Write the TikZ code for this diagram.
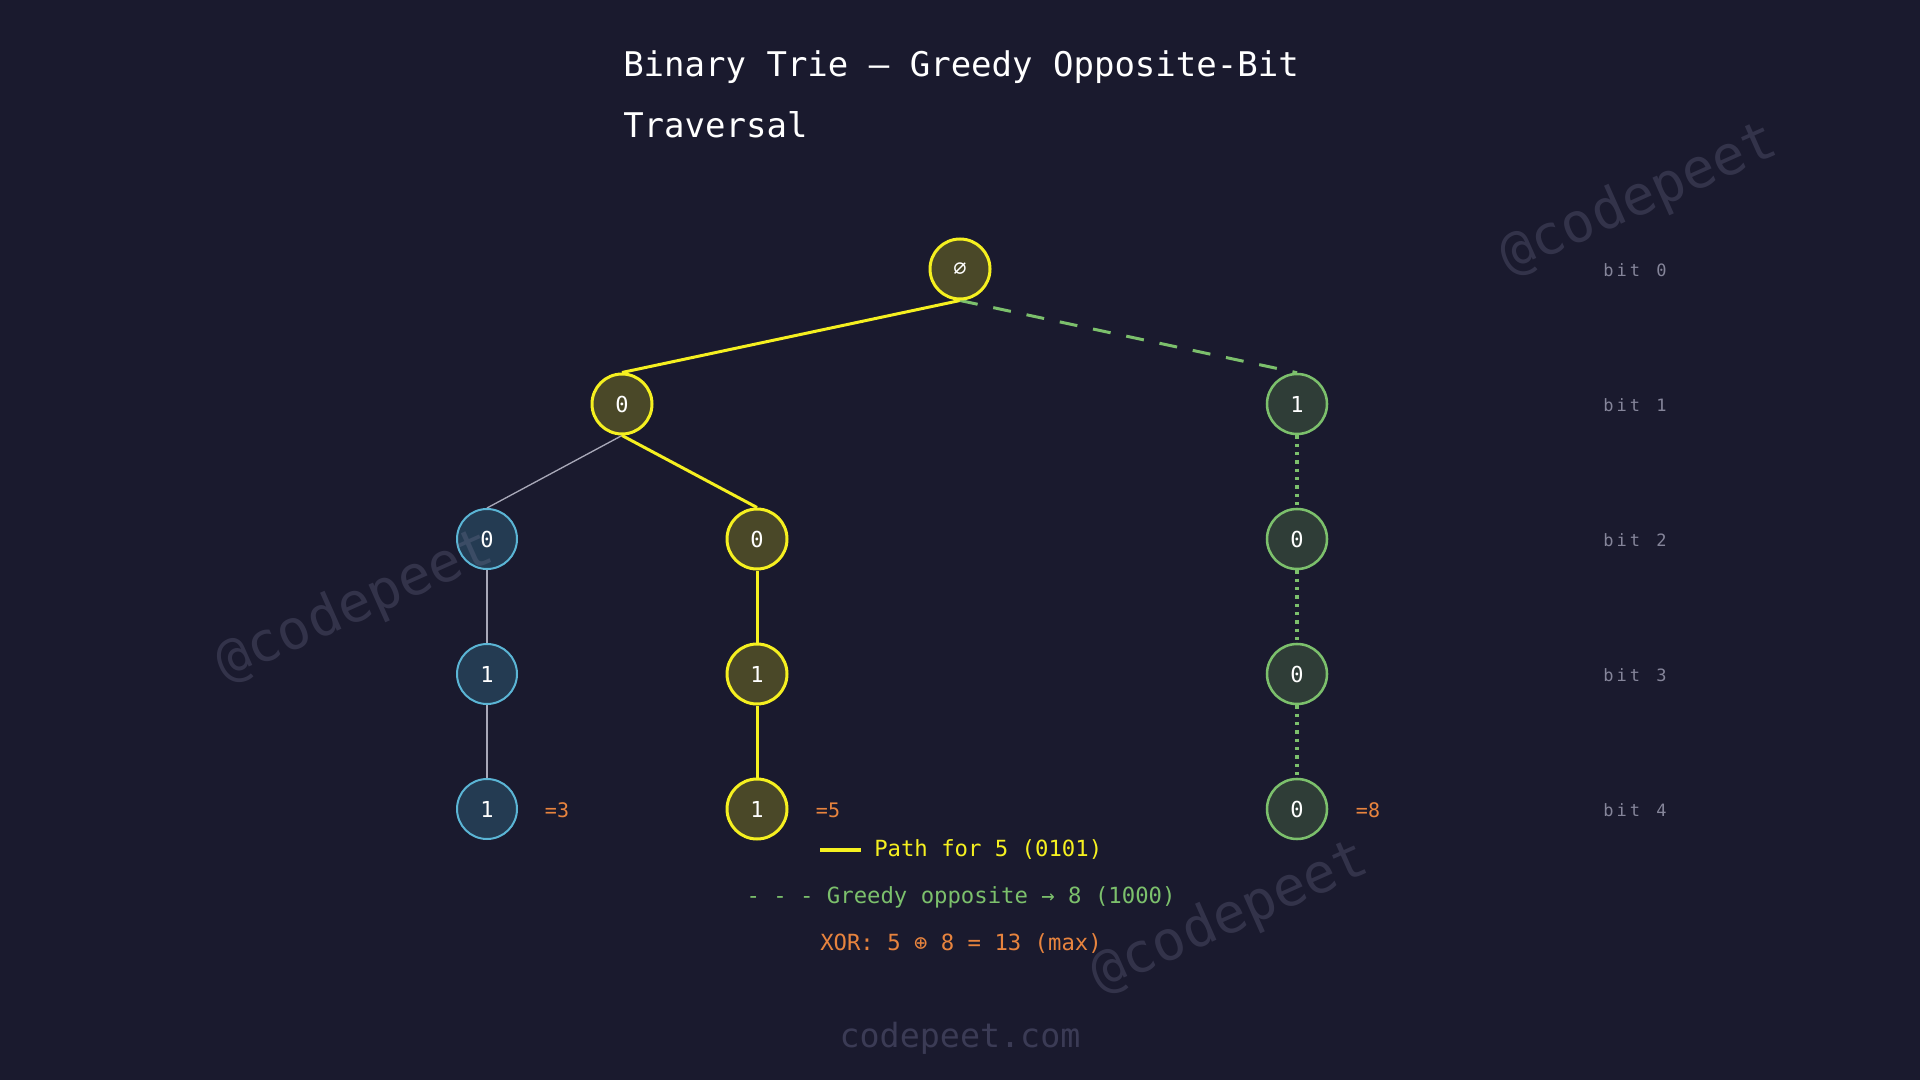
\documentclass[tikz,border=0pt]{standalone}
\usepackage{fontspec}
\setmainfont{DejaVu Sans Mono}
\setmonofont{DejaVu Sans Mono}
\usetikzlibrary{backgrounds}
\pgfdeclarelayer{bgfill}
\pgfsetlayers{bgfill,background,main}
\definecolor{bg}{HTML}{1A1A2E}
\definecolor{yel}{HTML}{F5F020}
\definecolor{yfill}{HTML}{4A4828}
\definecolor{blu}{HTML}{5BB5D5}
\definecolor{bfill}{HTML}{243B52}
\definecolor{grn}{HTML}{7CC06C}
\definecolor{gfill}{HTML}{2F3D37}
\definecolor{org}{HTML}{E8843E}
\definecolor{bitc}{HTML}{85859A}
\definecolor{gedge}{HTML}{A8A8B8}
\definecolor{wmc}{HTML}{8080A0}
\definecolor{site}{HTML}{3B3B55}
\newcommand\bitlbl[1]{b\kern2.25pt i\kern2.25pt t\kern2.25pt\ \kern2.25pt #1}
\begin{document}
\begin{tikzpicture}[x=0.75pt,y=-0.75pt,
  trnode/.style={circle,minimum size=45pt,inner sep=0pt,text=white,font=\fontsize{16.5}{20}\selectfont},
  ynode/.style={trnode,draw=yel,fill=yfill,line width=2.25pt},
  bnode/.style={trnode,draw=blu,fill=bfill,line width=1.5pt},
  gnode/.style={trnode,draw=grn,fill=gfill,line width=1.9pt},
  yedge/.style={draw=yel,line width=2.25pt},
  gryedge/.style={draw=gedge,line width=1pt},
  gdash/.style={draw=grn,line width=2.25pt,dash pattern=on 13.5pt off 12pt},
  gdot/.style={draw=grn,line width=2.5pt,dash pattern=on 2.5pt off 3.75pt},
  vallbl/.style={text=org,font=\fontsize{15}{18}\selectfont,inner sep=0pt},
  bitlab/.style={text=bitc,font=\fontsize{12.75}{15}\selectfont,inner sep=0pt},
  legtxt/.style={font=\fontsize{16.7}{20}\selectfont,inner sep=0pt},
  titletxt/.style={anchor=base west,inner sep=0pt,text=white,font=\fontsize{25.5}{30}\selectfont},
  wmark/.style={text=wmc,opacity=0.25,rotate=24,font=\fontsize{41}{48}\selectfont,inner sep=0pt}
]
\begin{pgfonlayer}{bgfill}
\fill[bg] (0,0) rectangle (1920,1080);
\end{pgfonlayer}
\useasboundingbox (0,0) rectangle (1920,1080);

% title
\node[titletxt] (t1) at (623,77) {Binary Trie — Greedy Opposite-Bit};
\node[titletxt] (t2) at (623,138) {Traversal};

% nodes
\node[ynode] (r) at (960,269) {∅};
\node[ynode] (a) at (622,404) {0};
\node[gnode] (b) at (1297,404) {1};
\node[bnode] (a0) at (487,539) {0};
\node[ynode] (a1) at (757,539) {0};
\node[gnode] (b0) at (1297,539) {0};
\node[bnode] (a01) at (487,674) {1};
\node[ynode] (a11) at (757,674) {1};
\node[gnode] (b00) at (1297,674) {0};
\node[bnode] (a011) at (487,809) {1};
\node[ynode] (a111) at (757,809) {1};
\node[gnode] (b000) at (1297,809) {0};

% edges (behind nodes)
\begin{scope}[on background layer]
\draw[yedge] (r.south) -- (a.north);
\draw[gdash] (r.south) -- (b.north);
\draw[gryedge] (a.south) -- (a0.north);
\draw[yedge] (a.south) -- (a1.north);
\draw[gryedge] (a0.south) -- (a01.north);
\draw[gryedge] (a01.south) -- (a011.north);
\draw[yedge] (a1.south) -- (a11.north);
\draw[yedge] (a11.south) -- (a111.north);
\draw[gdot] (b.south) -- (b0.north);
\draw[gdot] (b0.south) -- (b00.north);
\draw[gdot] (b00.south) -- (b000.north);
\end{scope}

% value labels
\node[vallbl] (v3) at (557,810) {=3};
\node[vallbl] (v5) at (828,810) {=5};
\node[vallbl] (v8) at (1368,810) {=8};

% bit labels
\node[bitlab] (bit0) at (1635,270) {\bitlbl{0}};
\node[bitlab] (bit1) at (1635,405) {\bitlbl{1}};
\node[bitlab] (bit2) at (1635,540) {\bitlbl{2}};
\node[bitlab] (bit3) at (1635,675) {\bitlbl{3}};
\node[bitlab] (bit4) at (1635,810) {\bitlbl{4}};

% legend
\coordinate (lgA) at (820,850);
\coordinate (lgB) at (861,850);
\draw[yel,line width=2.4pt] (lgA) -- (lgB);
\node[legtxt,text=yel,anchor=west] (lg1) at (874,850) {Path for 5 (0101)};
\node[legtxt,text=grn] (lg2) at (961,897) {- - - Greedy opposite → 8 (1000)};
\node[legtxt,text=org] (lg3) at (961,944) {XOR: 5 ⊕ 8 = 13 (max)};

% footer
\node[text=site,font=\fontsize{25}{30}\selectfont,inner sep=0pt] (site) at (960,1038) {codepeet.com};

% watermarks
\node[wmark] (w1) at (1639,200) {@codepeet};
\node[wmark] (w2) at (355,607) {@codepeet};
\node[wmark] (w3) at (1230,918) {@codepeet};
\end{tikzpicture}
\end{document}
